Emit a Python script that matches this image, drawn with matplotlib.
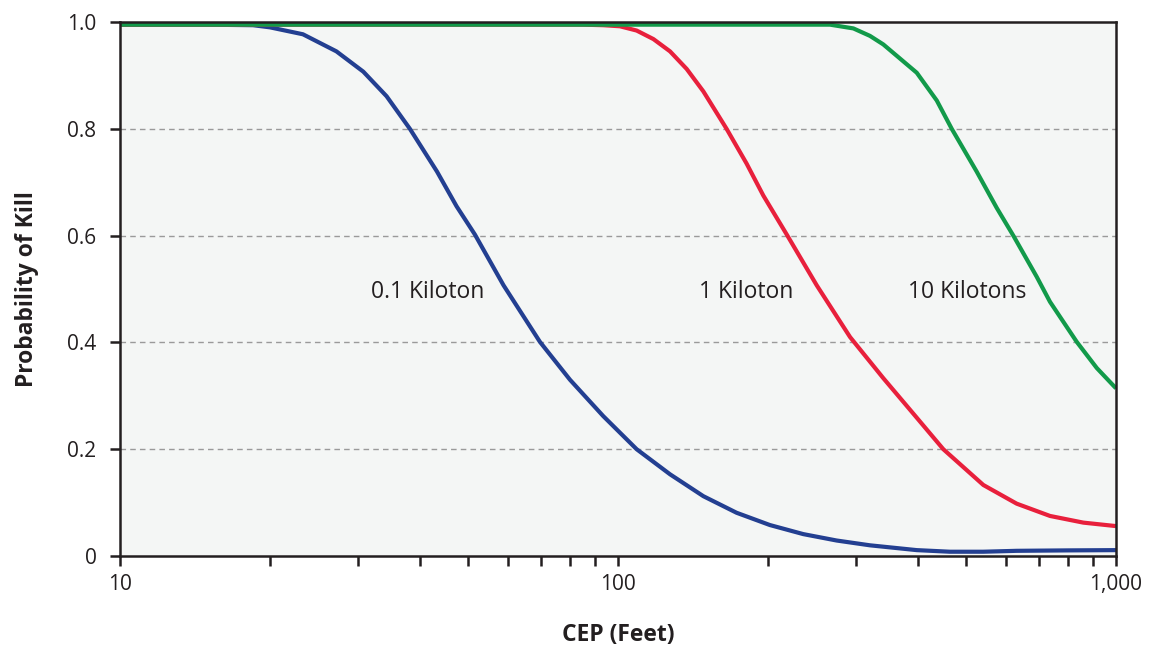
import matplotlib
matplotlib.use("Agg")
import matplotlib.pyplot as plt
from matplotlib.ticker import FixedLocator, NullFormatter, LogLocator

plt.rcParams['font.family'] = ['Open Sans', 'DejaVu Sans']

# CEP (feet) vs probability of kill
blue_x = [10, 15, 18.5, 20.0, 23.3, 27.2, 30.8, 34.3, 38.2, 43.3, 47.4, 51.6, 58.9,
          69.7, 80.1, 93.4, 109, 127.2, 148.4, 173, 201.8, 235.5, 274.8, 320.6, 398,
          464, 541, 632, 800, 1000]
blue_y = [0.995, 0.995, 0.994, 0.990, 0.977, 0.945, 0.907, 0.861, 0.800, 0.720, 0.655,
          0.602, 0.507, 0.401, 0.330, 0.262, 0.200, 0.153, 0.112, 0.081, 0.058, 0.041,
          0.029, 0.020, 0.011, 0.008, 0.008, 0.0097, 0.0105, 0.011]

red_x = [10, 50, 85, 93.4, 100.9, 109, 117.8, 127.2, 137.4, 148.4, 165.2, 181.2, 195.8,
         218.2, 250.6, 292.4, 341, 398, 450, 541.5, 631.8, 737, 859.8, 1000]
red_y = [0.995, 0.995, 0.995, 0.994, 0.992, 0.984, 0.968, 0.945, 0.912, 0.870, 0.800,
         0.735, 0.675, 0.602, 0.507, 0.410, 0.333, 0.259, 0.200, 0.133, 0.098, 0.075,
         0.0625, 0.056]

green_x = [10, 100, 230, 266.6, 296.9, 320.6, 341, 398, 436.6, 467.9, 525, 576, 622,
           693, 737, 834, 915, 1000]
green_y = [0.995, 0.995, 0.995, 0.995, 0.988, 0.974, 0.958, 0.905, 0.853, 0.800, 0.720,
           0.652, 0.600, 0.523, 0.476, 0.401, 0.352, 0.314]

series_labels = ["0.1 Kiloton", "1 Kiloton", "10 Kilotons"]
label_pos_x = [41.5, 181, 502]
label_pos_y = [0.494, 0.494, 0.494]

x_ticks = [10, 100, 1000]
x_tick_labels = ["10", "100", "1,000"]
y_ticks = [0, 0.2, 0.4, 0.6, 0.8, 1.0]
y_tick_labels = ["0", "0.2", "0.4", "0.6", "0.8", "1.0"]

colors = ["#233f91", "#e8203c", "#129a4a"]
dark = "#231f20"

fig = plt.figure(figsize=(11.5, 6.49), dpi=100)
ax = fig.add_axes([120 / 1150, 1 - 556 / 649, (1116 - 120) / 1150, (556 - 22) / 649])
ax.set_facecolor("#f4f6f5")

ax.set_xscale("log")
ax.set_xlim(10, 1000)
ax.set_ylim(0, 1.0)

for yv in y_ticks[1:-1]:
    ax.axhline(yv, color="#9a9a9a", lw=1.0, ls=(0, (4, 3)), zorder=1)

for xs, ys, c in zip([blue_x, red_x, green_x], [blue_y, red_y, green_y], colors):
    ax.plot(xs, ys, color=c, lw=3.0, solid_capstyle="butt", solid_joinstyle="round",
            zorder=3)

for t, lx, ly in zip(series_labels, label_pos_x, label_pos_y):
    ax.text(lx, ly, t, ha="center", va="center", fontsize=16.5, color=dark, zorder=4)

ax.xaxis.set_major_locator(FixedLocator(x_ticks))
ax.set_xticklabels(x_tick_labels)
ax.xaxis.set_minor_locator(LogLocator(base=10, subs=range(2, 10)))
ax.xaxis.set_minor_formatter(NullFormatter())
ax.set_yticks(y_ticks)
ax.set_yticklabels(y_tick_labels)

ax.tick_params(axis="both", which="both", direction="out", length=7, width=1.8,
               color=dark, labelsize=15, labelcolor=dark)
ax.tick_params(axis="x", which="both", pad=6)
ax.tick_params(axis="y", pad=10)

for sp in ax.spines.values():
    sp.set_color(dark)
    sp.set_linewidth(1.8)
    sp.set_zorder(5)

ax.set_xlabel("CEP (Feet)", fontsize=16.5, fontweight="bold", color=dark, labelpad=20)
ax.set_ylabel("Probability of Kill", fontsize=16.5, fontweight="bold", color=dark,
              labelpad=20)

fig.savefig("out.png", dpi=100)
